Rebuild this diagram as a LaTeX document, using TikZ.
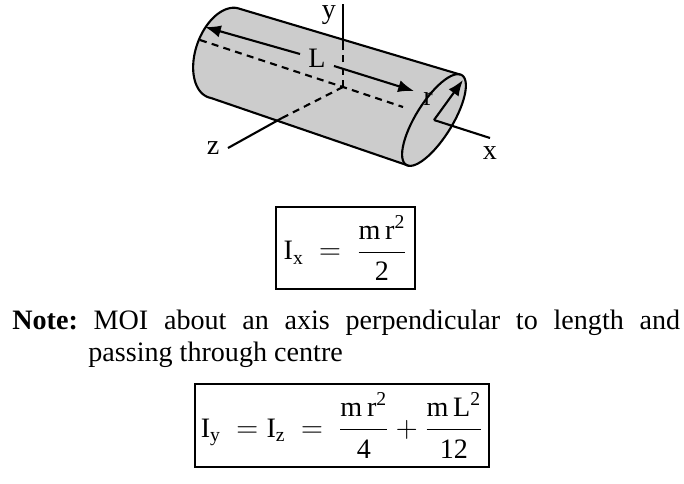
\documentclass[tikz,border=0pt]{standalone}
\usepackage{amsmath}
\usepackage{fontspec}
\setmainfont{Liberation Serif}
\usetikzlibrary{positioning, arrows.meta}
\tikzset{
  ax/.style={line width=1.2pt},
  hid/.style={line width=1.2pt, dash pattern=on 4pt off 3pt},
  arr/.style={line width=1.2pt, -{Latex[length=9pt, width=7pt]}},
  lab/.style={font=\fontsize{16}{18}\selectfont},
  fbox/.style={draw, line width=0.8pt, font=\fontsize{16}{18}\selectfont}
}
\newcommand{\tx}[1]{\text{#1}}
\begin{document}
\begin{tikzpicture}[x=0.02cm, y=-0.02cm]
  \useasboundingbox (0,0) rectangle (684,484);
  % cylinder body
  \fill[gray!40] plot[domain=0:180, variable=\t, samples=40]
        ({224+13*cos(\t)-28*sin(\t)}, {53-45*cos(\t)-5*sin(\t)})
     -- plot[domain=156.4:336.4, variable=\t, samples=40]
        ({434+17*cos(\t)-27*sin(\t)}, {120-44*cos(\t)+13*sin(\t)}) -- cycle;
  \draw[line width=1.2pt] plot[domain=0:180, variable=\t, samples=40]
        ({224+13*cos(\t)-28*sin(\t)}, {53-45*cos(\t)-5*sin(\t)});
  \draw[line width=1.2pt] (237,8) -- (460,74.5);
  \draw[line width=1.2pt] (211,98) -- (408,165.5);
  \draw[line width=1.2pt] plot[domain=0:360, variable=\t, samples=60]
        ({434+17*cos(\t)-27*sin(\t)}, {120-44*cos(\t)+13*sin(\t)});
  % axes
  \coordinate (O) at (343,87);
  \coordinate (C) at (434,120);
  \draw[ax] (343,43) -- (343,4);
  \node[lab] (ylab) at (329,15) {y};
  \draw[hid] (O) -- (343,43);
  \draw[hid] (O) -- (282,118);
  \draw[ax] (282,118) -- (228,148) node[lab, left=1pt] (zlab) {z};
  \draw[hid] (200,40) -- (O) -- (403,107);
  \draw[ax] (C) -- (490,138) node[lab, below=1pt] (xlab) {x};
  % length and radius
  \node[lab] (L) at (317,58) {L};
  \draw[arr] (300,54) -- (205,27);
  \draw[arr] (334,66) -- (414,91);
  \draw[arr] (C) -- (463,80);
  \node[lab] (r) at (428,99) {r};
  % formulas
  \node[fbox, minimum width=139*0.02cm, minimum height=82*0.02cm] (Ix) at (345.5,248)
    {$\tx{I}_{\tx{x}}\ =\ \dfrac{\tx{m\,r}^{\tx{2}}}{\tx{2}}$};
  \node[lab, inner sep=0pt, anchor=north west] (note) at (12,310)
    {\hbox to 13.36cm{\textbf{Note:}\hfill MOI\hfill about\hfill an\hfill axis\hfill perpendicular\hfill to\hfill length\hfill and}};
  \node[lab, inner sep=0pt, anchor=north west] (note2) at (88,342) {passing through centre};
  \node[fbox, minimum width=288*0.02cm, minimum height=83*0.02cm] (Iy) at (342,425.5)
    {$\tx{I}_{\tx{y}}\ = \tx{I}_{\tx{z}}\ =\ \dfrac{\tx{m\,r}^{\tx{2}}}{\tx{4}}+\dfrac{\tx{m\,L}^{\tx{2}}}{\tx{12}}$};
\end{tikzpicture}
\end{document}
